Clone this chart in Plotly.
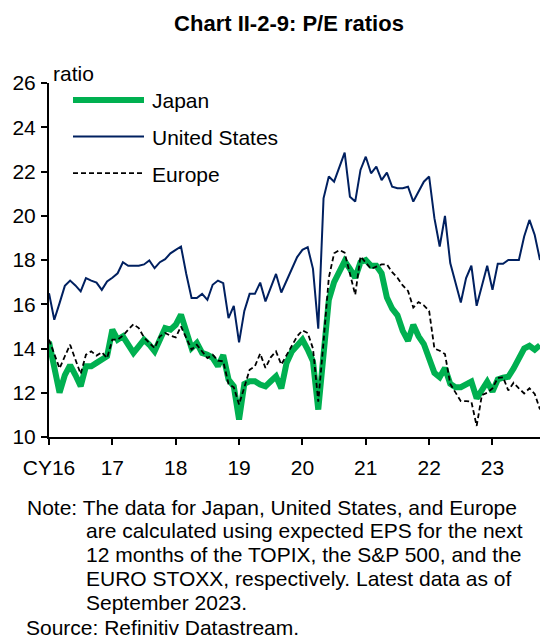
import pandas as pd
import plotly.graph_objects as go

# ---- data ----
months = pd.date_range("2016-01-01", periods=94, freq="MS").strftime("%Y-%m").tolist()

japan = [14.3, 13.1, 12.0, 12.8, 13.25, 12.8, 12.3, 13.2, 13.2, 13.35, 13.5, 13.65,
         14.85, 14.4, 14.55, 14.17, 13.8, 14.1, 14.4, 14.17, 13.87, 14.4, 14.92, 14.85,
         15.07, 15.53, 14.7, 14.02, 14.25, 13.8, 13.72, 13.58, 13.2, 13.7, 12.6, 12.29,
         10.79, 12.4, 12.52, 12.52, 12.37, 12.29, 12.52, 12.74, 12.2, 13.35, 13.87, 14.1,
         14.4, 13.95, 13.42, 11.24, 13.6, 16.2, 17.0, 17.5, 17.95, 17.6, 17.2, 17.9,
         18.0, 17.74, 17.74, 17.4, 16.3, 15.8, 15.5, 14.8, 14.35, 15.07, 14.55, 14.2,
         13.6, 12.9, 12.7, 13.12, 12.4, 12.25, 12.25, 12.35, 12.5, 11.75, 12.15, 12.5,
         12.05, 12.6, 12.68, 12.72, 13.1, 13.6, 14.0, 14.12, 13.95, 14.15]

united_states = [16.5, 15.3, 16.05, 16.83, 17.07, 16.85, 16.58, 17.18, 17.07, 16.98, 16.65, 17.03,
                 17.2, 17.4, 17.9, 17.74, 17.74, 17.74, 17.8, 17.98, 17.63, 17.9, 18.04, 18.3,
                 18.46, 18.61, 17.37, 16.28, 16.28, 16.47, 16.2, 16.88, 17.07, 16.95, 15.37, 15.93,
                 14.28, 15.7, 16.47, 16.47, 16.98, 16.13, 16.75, 17.37, 16.53, 17.07, 17.63, 18.13,
                 18.46, 18.58, 17.6, 14.9, 20.79, 21.77, 21.54, 22.22, 22.85, 20.86, 20.64, 22.07,
                 22.67, 21.92, 22.22, 21.61, 21.95, 21.31, 21.24, 21.24, 21.31, 20.64, 21.09, 21.54,
                 21.77, 19.89, 18.61, 19.99, 17.86, 16.95, 16.08, 17.18, 17.74, 15.93, 16.8, 17.74,
                 16.65, 17.83, 17.83, 18.0, 18.0, 18.0, 19.06, 19.81, 19.13, 18.0]

europe = [14.4, 13.7, 13.1, 13.65, 14.17, 13.5, 12.85, 13.72, 13.87, 13.68, 13.83, 13.57,
          14.4, 14.4, 14.58, 14.85, 15.1, 14.92, 14.5, 14.25, 14.02, 14.55, 14.7, 14.58,
          14.5, 15.0, 14.5, 13.95, 14.17, 13.87, 13.57, 13.72, 13.45, 13.42, 12.4, 12.25,
          11.47, 12.25, 13.04, 13.2, 13.77, 13.12, 13.6, 13.87, 13.27, 13.7, 14.1, 14.55,
          14.82, 14.7, 14.0, 11.6, 14.3, 17.2, 18.3, 18.45, 18.33, 17.4, 16.43, 18.16,
          17.9, 17.6, 17.7, 17.8, 17.8, 17.45, 17.2, 16.85, 16.6, 15.85, 16.1, 15.95,
          15.7, 14.0, 13.9, 13.75, 12.4, 12.0, 11.62, 11.62, 11.6, 10.5, 11.9, 12.0,
          12.2, 12.67, 12.7, 12.1, 12.45, 12.2, 11.97, 12.2, 11.95, 11.24]

tick_months = ["2016-01", "2017-01", "2018-01", "2019-01", "2020-01", "2021-01", "2022-01", "2023-01"]
tick_labels = ["CY16", "17", "18", "19", "20", "21", "22", "23"]
y_ticks = [10, 12, 14, 16, 18, 20, 22, 24, 26]

series_names = ["Japan", "United States", "Europe"]

# ---- styles ----
FONT = "Liberation Sans, Arial, sans-serif"
GREEN = "#00B050"
NAVY = "#002060"
styles = {
    "Japan": dict(color=GREEN, width=6),
    "United States": dict(color=NAVY, width=2),
    "Europe": dict(color="black", width=1.8, dash="5px,3px"),
}
values = {"Japan": japan, "United States": united_states, "Europe": europe}

fig = go.Figure()
for name in series_names:
    fig.add_trace(go.Scatter(x=months, y=values[name], mode="lines", name=name,
                             line=styles[name], showlegend=False))

# page body margin offsets the figure by 8px; compensate
OFF = 8
W, H = 555 - OFF, 639 - OFF
L_ref, T_ref, R_ref, B_ref = 49, 83, 540, 437.5   # plot box in window pixels
L, T = L_ref - OFF, T_ref - OFF
R = 555 - R_ref
B = 639 - B_ref
pw, ph = R_ref - L_ref, B_ref - T_ref

def px_x(x):
    return (x - L_ref) / pw

def px_y(y):
    return (B_ref - y) / ph

# manual legend (long line samples as in the original)
legend_rows = [("Japan", 100), ("United States", 136.7), ("Europe", 173.3)]
shapes = []
annotations = []
for name, yy in legend_rows:
    st = styles[name]
    shapes.append(dict(type="line", xref="paper", yref="paper",
                       x0=px_x(73), x1=px_x(144), y0=px_y(yy), y1=px_y(yy),
                       line=dict(color=st["color"], width=st["width"], dash=st.get("dash", "solid"))))
    annotations.append(dict(text=name, xref="paper", yref="paper", x=px_x(149.5), y=px_y(yy + 1),
                            xanchor="left", yanchor="middle", showarrow=False,
                            font=dict(family=FONT, size=21, color="black")))

annotations.append(dict(text="ratio", xref="paper", yref="paper", x=px_x(51), y=px_y(73),
                        xanchor="left", yanchor="middle", showarrow=False,
                        font=dict(family=FONT, size=21, color="black")))

note_lines = [
    ("Note: The data for Japan, United States, and Europe", 25, 507.7),
    ("are calculated using expected EPS for the next", 84, 530.7),
    ("12 months of the TOPIX, the S&amp;P 500, and the", 84, 554.7),
    ("EURO STOXX, respectively. Latest data as of", 84, 579.0),
    ("September 2023.", 84, 603.0),
    ("Source: Refinitiv Datastream.", 23.5, 628.5),
]
for txt, xx, yy in note_lines:
    annotations.append(dict(text=txt, xref="paper", yref="paper", x=px_x(xx), y=px_y(yy),
                            xanchor="left", yanchor="middle", showarrow=False,
                            font=dict(family=FONT, size=21, color="black")))

fig.update_layout(
    width=W, height=H,
    margin=dict(l=L, r=R, t=T, b=B, pad=0, autoexpand=False),
    paper_bgcolor="white", plot_bgcolor="white",
    font=dict(family=FONT, size=21, color="black"),
    title=dict(text="<b>Chart II-2-9: P/E ratios</b>", x=(289 - OFF) / W, xanchor="center",
               xref="container", yref="container", y=1 - (23 - OFF) / H, yanchor="middle",
               font=dict(family=FONT, size=22, color="black")),
    shapes=shapes,
    annotations=annotations,
    xaxis=dict(type="category", range=[0, len(months) - 1], tickmode="array",
               tickvals=tick_months, ticktext=tick_labels, showgrid=False, zeroline=False,
               showline=True, linecolor="black", linewidth=2, ticks="outside", ticklen=6,
               tickwidth=2, tickcolor="black", ticklabelstandoff=5, automargin=False,
               tickfont=dict(family=FONT, size=21, color="black")),
    yaxis=dict(range=[10, 26], tickmode="array", tickvals=y_ticks, showgrid=False,
               zeroline=False, showline=True, linecolor="black", linewidth=2,
               ticks="outside", ticklen=6, tickwidth=2, tickcolor="black", automargin=False,
               ticklabelstandoff=1, tickfont=dict(family=FONT, size=21, color="black")),
)

fig.write_html("out.html")
